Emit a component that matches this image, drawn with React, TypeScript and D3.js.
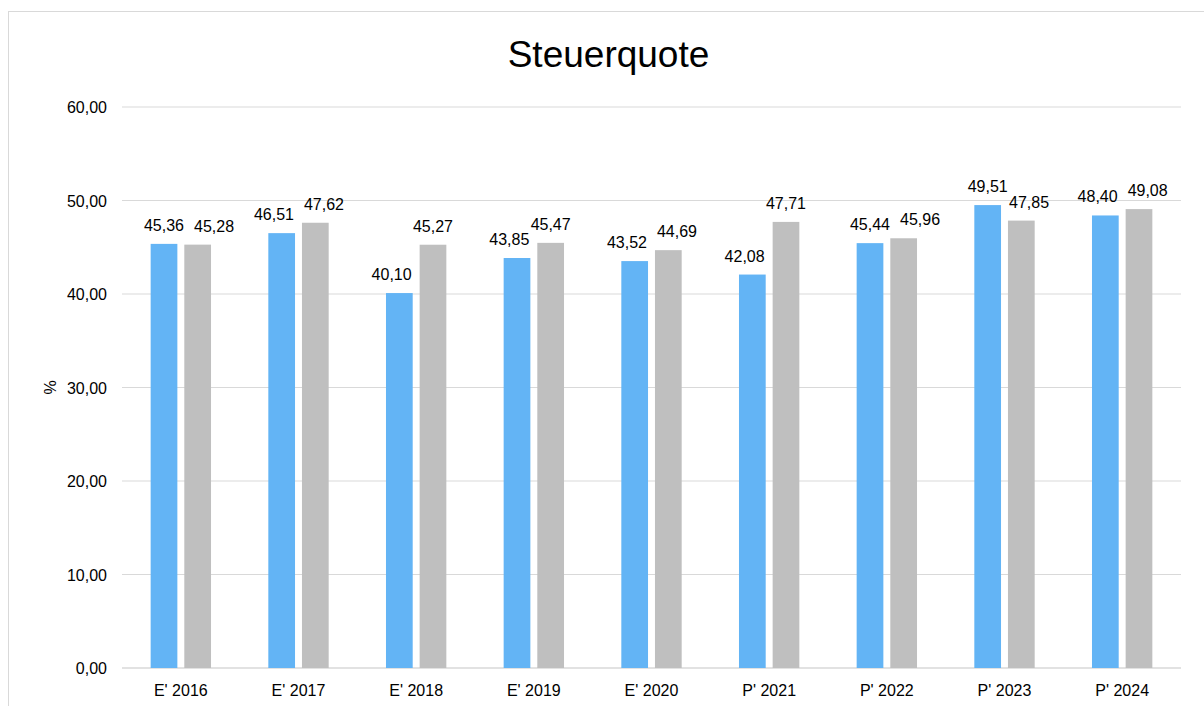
import React from "react";
import * as d3 from "d3";

const categories = ["E' 2016", "E' 2017", "E' 2018", "E' 2019", "E' 2020", "P' 2021", "P' 2022", "P' 2023", "P' 2024"];
const seriesA = [45.36, 46.51, 40.1, 43.85, 43.52, 42.08, 45.44, 49.51, 48.4];
const seriesB = [45.28, 47.62, 45.27, 45.47, 44.69, 47.71, 45.96, 47.85, 49.08];
const yTicks = [0, 10, 20, 30, 40, 50, 60];

const W = 1204;
const H = 706;
const left = 122;
const right = 1181;
const top = 107;
const bottom = 668;

const fmt = (v: number) => v.toFixed(2).replace(".", ",");

export default function App() {
  const x = d3.scaleBand<string>().domain(categories).range([left, right]).padding(0);
  const y = d3.scaleLinear().domain([0, 60]).range([bottom, top]);
  const bw = x.bandwidth();
  const barW = bw * 0.227;
  const off = bw * 0.143;
  const font = "'Liberation Sans', Arial, sans-serif";
  const fs = 16;
  const labelW = (s: string) => {
    let w = 0;
    for (const ch of s) w += ch === "," ? 0.278 : 0.556;
    return w * fs;
  };
  const labelH = 11.5;
  const lift = 13;

  // simple label layout: avoid neighbouring bar, then avoid other label
  const layout = categories.map((c, i) => {
    const cA = (x(c) as number) + bw / 2 - off;
    const cB = (x(c) as number) + bw / 2 + off;
    const vA = seriesA[i];
    const vB = seriesB[i];
    const baseA = y(vA) - lift;
    const baseB = y(vB) - lift;
    const wA = labelW(fmt(vA));
    const wB = labelW(fmt(vB));
    let xA = cA;
    let xB = cB;
    const barGap = 8;
    const vPadBar = 8;
    // blue label vs gray bar
    if (baseA + vPadBar > y(vB)) {
      const maxRight = cB - barW / 2 - barGap;
      if (xA + wA / 2 > maxRight) xA = maxRight - wA / 2;
    }
    // gray label vs blue bar
    if (baseB + vPadBar > y(vA)) {
      const minLeft = cA + barW / 2 + barGap;
      if (xB - wB / 2 < minLeft) xB = minLeft + wB / 2;
    }
    // label vs label
    const vPad = 3;
    const overlapV = !(baseA + vPad < baseB - labelH || baseB + vPad < baseA - labelH);
    const gap = 10;
    if (overlapV) {
      const need = wA / 2 + wB / 2 + gap;
      if (xB - xA < need) xB = xA + need;
    }
    return { xA, xB, baseA, baseB };
  });

  return (
    <svg width={W} height={H} style={{ position: "absolute", left: 0, top: 0 }} fontFamily={font}>
      <rect x={0} y={0} width={W} height={H} fill="#fff" />
      <rect x={8.5} y={11.5} width={W + 20} height={H + 20} fill="none" stroke="#D9D9D9" strokeWidth={1} />
      <text x={608.5} y={67} textAnchor="middle" fontSize={37} fill="#000">Steuerquote</text>
      {yTicks.map((t) => (
        <g key={t}>
          <line x1={left} x2={right} y1={y(t)} y2={y(t)} stroke="#D9D9D9" strokeWidth={t === 0 ? 1.5 : 1} />
          <text x={107} y={y(t) + 6} textAnchor="end" fontSize={fs} fill="#000">{fmt(t)}</text>
        </g>
      ))}
      <text transform={`translate(56,${(top + bottom) / 2}) rotate(-90)`} textAnchor="middle" fontSize={fs} fill="#000">%</text>
      {categories.map((c, i) => {
        const cA = (x(c) as number) + bw / 2 - off;
        const cB = (x(c) as number) + bw / 2 + off;
        return (
          <g key={`bars-${i}`}>
            <rect x={cA - barW / 2} y={y(seriesA[i])} width={barW} height={bottom - y(seriesA[i])} fill="#63B4F5" />
            <rect x={cB - barW / 2} y={y(seriesB[i])} width={barW} height={bottom - y(seriesB[i])} fill="#BFBFBF" />
          </g>
        );
      })}
      {categories.map((c, i) => (
        <g key={`labels-${i}`}>
          <text x={layout[i].xA} y={layout[i].baseA} textAnchor="middle" fontSize={fs} fill="#000">{fmt(seriesA[i])}</text>
          <text x={layout[i].xB} y={layout[i].baseB} textAnchor="middle" fontSize={fs} fill="#000">{fmt(seriesB[i])}</text>
        </g>
      ))}
      {categories.map((c) => (
        <text key={c} x={(x(c) as number) + bw / 2} y={696} textAnchor="middle" fontSize={fs} fill="#000">{c}</text>
      ))}
    </svg>
  );
}
